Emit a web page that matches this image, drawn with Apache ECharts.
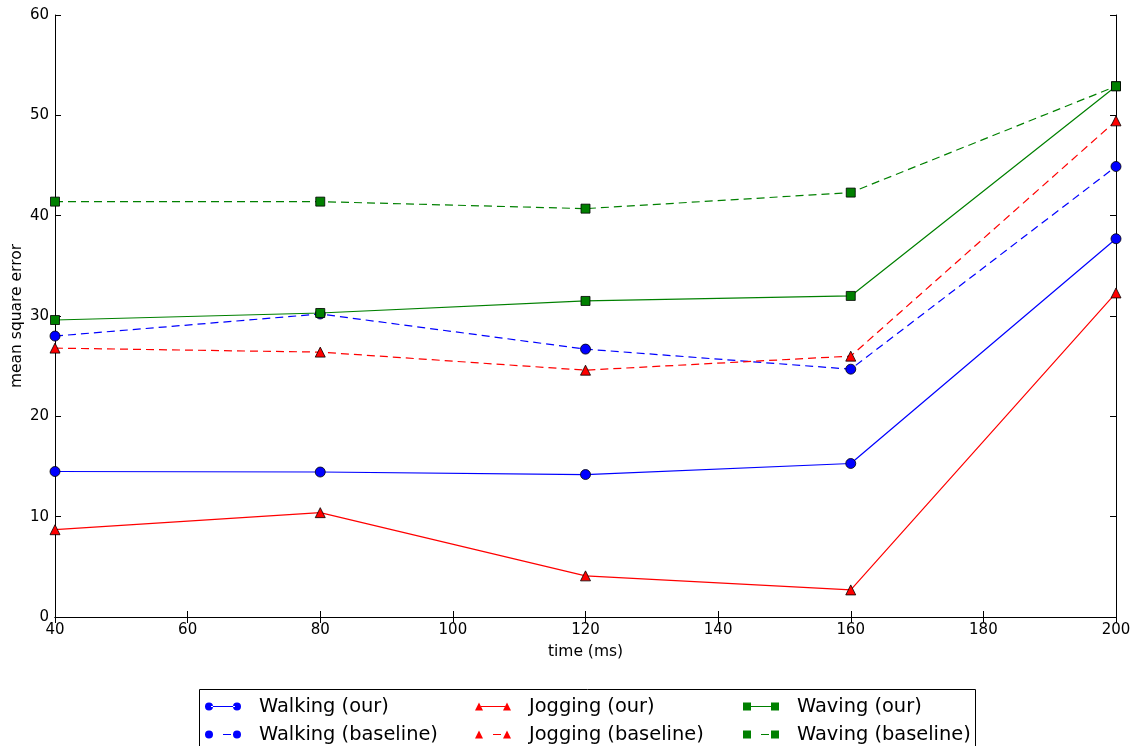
<!DOCTYPE html>
<html>
<head>
<meta charset="utf-8">
<script src="https://cdn.jsdelivr.net/npm/echarts@6/dist/echarts.min.js"></script>
<style>
html,body{margin:0;padding:0;background:#fff;}
#chart{width:1136px;height:746px;}
</style>
</head>
<body>
<div id="chart"></div>
<script>
var times = [40, 80, 120, 160, 200];
var walkingOur = [14.5, 14.45, 14.2, 15.3, 37.7];
var walkingBase = [28.0, 30.2, 26.7, 24.7, 44.9];
var joggingOur = [8.7, 10.4, 4.1, 2.7, 32.3];
var joggingBase = [26.8, 26.4, 24.6, 26.0, 49.45];
var wavingOur = [29.6, 30.3, 31.5, 32.0, 52.9];
var wavingBase = [41.4, 41.4, 40.7, 42.3, 52.9];
var xTicks = [40, 60, 80, 100, 120, 140, 160, 180, 200];
var yTicks = [0, 10, 20, 30, 40, 50, 60];

var BLUE = '#0000ff', RED = '#ff0000', GREEN = '#008000';
var FONT = 'DejaVu Sans';

function pairs(ys) { return times.map(function (t, i) { return [t, ys[i]]; }); }

var circleL = 'M0,5a4,4 0 1,0 8,0a4,4 0 1,0 -8,0Z';
var circleR = 'M28,5a4,4 0 1,0 8,0a4,4 0 1,0 -8,0Z';
var triL = 'M0,9L4,1L8,9Z';
var triR = 'M28,9L32,1L36,9Z';
var sqL = 'M0,1H8V9H0Z';
var sqR = 'M28,1H36V9H28Z';
var solidLine = 'M6,4.5H30V5.5H6Z';
var dashLine = 'M18,4.5H26V5.5H18Z';

function icon(l, r, line) { return 'path://' + l + ' ' + r + ' ' + line; }

function mkSeries(name, data, color, symbol, dashed) {
  return {
    name: name,
    type: 'line',
    data: pairs(data),
    symbol: symbol,
    symbolSize: symbol === 'triangle' ? 10 : (symbol === 'rect' ? 9 : 10),
    showAllSymbol: true,
    clip: true,
    lineStyle: { color: color, width: 1.2, type: dashed ? [8, 5] : 'solid' },
    itemStyle: { color: color, borderColor: '#000', borderWidth: 0.8 },
    emphasis: { disabled: true },
    animation: false
  };
}

var chart = echarts.init(document.getElementById('chart'), null, { renderer: 'canvas' });

var axisCommon = {
  axisLine: { show: true, lineStyle: { color: '#000', width: 1 } },
  axisTick: { show: true, inside: true, length: 6, lineStyle: { color: '#000', width: 1 } },
  splitLine: { show: false }
};

var legendText = { fontFamily: FONT, fontSize: 19.4, lineHeight: 19, color: '#000', padding: [0, 0, 0, 13] };
var legendCommon = {
  top: 697, orient: 'vertical', itemWidth: 36, itemHeight: 9, itemGap: 9, padding: 0,
  textStyle: legendText, selectedMode: false,
  itemStyle: { borderWidth: 0 }, lineStyle: { width: 0 }
};

var option = {
  backgroundColor: '#fff',
  animation: false,
  grid: { left: 55, right: 20, top: 15, bottom: 129, containLabel: false, outerBoundsMode: 'none' },
  xAxis: [
    Object.assign({
      type: 'value', min: 40, max: 200, interval: 20, position: 'bottom',
      name: 'time (ms)', nameLocation: 'middle', nameGap: 27, nameMoveOverlap: false,
      nameTextStyle: { fontFamily: FONT, fontSize: 15.5, color: '#000' },
      axisLabel: { fontFamily: FONT, fontSize: 15, color: '#000', margin: 6 }
    }, axisCommon),
    Object.assign({
      type: 'value', min: 40, max: 200, interval: 20, position: 'top',
      axisLabel: { show: false }
    }, axisCommon)
  ],
  yAxis: [
    Object.assign({
      type: 'value', min: 0, max: 60, interval: 10, position: 'left',
      name: 'mean square error', nameLocation: 'middle', nameGap: 30, nameMoveOverlap: false,
      nameTextStyle: { fontFamily: FONT, fontSize: 15.5, color: '#000' },
      axisLabel: { fontFamily: FONT, fontSize: 15, color: '#000', margin: 6 }
    }, axisCommon),
    Object.assign({
      type: 'value', min: 0, max: 60, interval: 10, position: 'right',
      axisLabel: { show: false }
    }, axisCommon)
  ],
  legend: [
    Object.assign({ left: 205,
      data: [
        { name: 'Walking (our)', icon: icon(circleL, circleR, solidLine) },
        { name: 'Walking (baseline)', icon: icon(circleL, circleR, dashLine) }
      ] }, legendCommon),
    Object.assign({ left: 475,
      data: [
        { name: 'Jogging (our)', icon: icon(triL, triR, solidLine) },
        { name: 'Jogging (baseline)', icon: icon(triL, triR, dashLine) }
      ] }, legendCommon),
    Object.assign({ left: 743,
      data: [
        { name: 'Waving (our)', icon: icon(sqL, sqR, solidLine) },
        { name: 'Waving (baseline)', icon: icon(sqL, sqR, dashLine) }
      ] }, legendCommon)
  ],
  graphic: [
    { type: 'rect', left: 197, top: 687, shape: { width: 776, height: 80 },
      style: { fill: 'none', stroke: '#000', lineWidth: 1 }, silent: true, z: 100 }
  ],
  series: [
    mkSeries('Walking (our)', walkingOur, BLUE, 'circle', false),
    mkSeries('Walking (baseline)', walkingBase, BLUE, 'circle', true),
    mkSeries('Jogging (our)', joggingOur, RED, 'triangle', false),
    mkSeries('Jogging (baseline)', joggingBase, RED, 'triangle', true),
    mkSeries('Waving (our)', wavingOur, GREEN, 'rect', false),
    mkSeries('Waving (baseline)', wavingBase, GREEN, 'rect', true)
  ]
};

chart.setOption(option);
</script>
</body>
</html>
